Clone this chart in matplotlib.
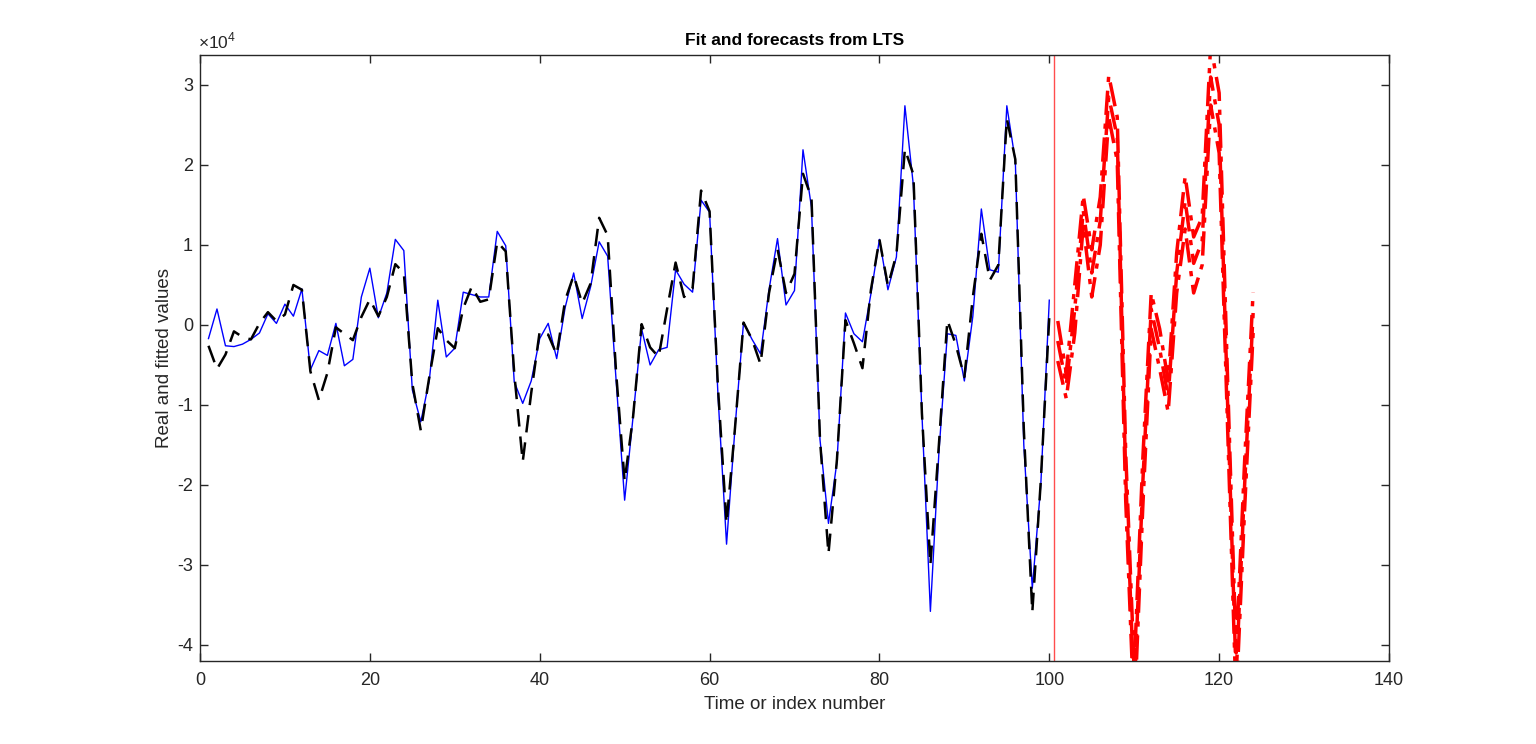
import numpy as np
import matplotlib
matplotlib.use('Agg')
import matplotlib.pyplot as plt
from matplotlib.ticker import FuncFormatter

plt.rcParams['font.family'] = ['Liberation Sans', 'DejaVu Sans']
plt.rcParams['mathtext.fontset'] = 'custom'
plt.rcParams['mathtext.rm'] = 'Liberation Sans'

# time index of observed part and forecast part
t_obs = np.arange(1, 101)
t_fc = np.arange(101, 125)

# real values (blue)
real_vals = [
    -1700, 2000, -2600, -2700, -2400, -1800, -1000, 1400, 200, 2600,
    1100, 4500, -5600, -3200, -3800, 200, -5100, -4300, 3500, 7100,
    900, 4000, 10700, 9300, -8100, -12100, -6900, 3100, -4000, -2900,
    4100, 3800, 3500, 3500, 11700, 9900, -7100, -9800, -7000, -1700,
    200, -4200, 2200, 6500, 800, 4800, 10400, 8600, -7000, -21900,
    -11400, -500, -5000, -3100, -2800, 6900, 5100, 4100, 15600, 14100,
    -9000, -27400, -12800, 300, -1800, -3600, 4400, 10800, 2500, 4300,
    21900, 14700, -14300, -24800, -17100, 1500, -1100, -2100, 3900, 10700,
    4400, 8500, 27400, 17400, -11000, -35800, -16000, -1100, -1300, -7000,
    1100, 14500, 6900, 6600, 27400, 20500, -15000, -32900, -20000, 3100,
]

# fitted values from LTS (black dashed)
fitted_vals = [
    -2600, -5500, -3700, -800, -1500, -1800, 200, 1600, 500, 1300,
    5000, 4400, -5800, -9400, -6000, -300, -1100, -1900, 1000, 3200,
    1100, 3500, 7600, 6500, -7300, -13200, -6500, -400, -1900, -2900,
    2100, 4800, 2900, 3200, 10400, 9200, -6000, -17100, -8500, -800,
    -1200, -3700, 3100, 6200, 2700, 5200, 13400, 11200, -6000, -19500,
    -11400, 100, -2800, -4000, 2000, 7800, 3500, 4600, 16800, 14200,
    -8000, -24800, -12800, 300, -1800, -4900, 4000, 9500, 4000, 6400,
    18900, 15900, -14300, -28600, -16800, 600, -2300, -5400, 4400, 10700,
    4900, 8800, 22000, 18800, -11000, -30000, -15000, 600, -2500, -6500,
    3500, 11400, 5600, 7500, 25800, 20700, -13000, -35900, -19500, 1000,
]

# forecasts and bounds (red)
fc_upper = [500, -6000, 5000, 16200, 9400, 16000, 31200, 26000, -16000, -43000,
            -17000, 4000, -500, -7000, 9000, 18600, 11000, 13500, 35000, 29000,
            -7000, -41000, -17000, 4100]
fc_mid = [-2000, -7500, 2000, 14300, 6500, 13000, 28500, 23500, -19000, -46000,
          -20000, 2000, -3000, -9000, 6500, 15500, 7700, 10500, 31000, 25000,
          -10000, -44000, -20000, 1500]
fc_lower = [-4500, -9200, -1000, 12500, 3500, 10000, 26000, 20500, -22000, -49000,
            -23000, -500, -5500, -10900, 4000, 12000, 4000, 7500, 27500, 21500,
            -13000, -47000, -23000, -1000]

fig = plt.figure(figsize=(15.36, 7.44), dpi=100)
ax = fig.add_axes([0.1302, 0.1116, 0.7741, 0.8145])

ax.plot(t_obs, real_vals, color='blue', lw=1.0)
ax.plot(t_obs, fitted_vals, color='black', lw=1.8, linestyle=(0, (7, 4)))
for fc in (fc_upper, fc_mid, fc_lower):
    ax.plot(t_fc, fc, color='red', lw=2.5, linestyle=(0, (7, 2.5, 1.5, 2.5)))
ax.axvline(100.5, color='#ff4d4d', lw=1.0)

ax.set_xlim(0, 140)
ax.set_ylim(-42000, 33750)
ax.set_xticks(np.arange(0, 141, 20))
ax.set_yticks(np.arange(-40000, 30001, 10000))

# MATLAB style: plain hyphen minus and exponent shown above the axis
ax.yaxis.set_major_formatter(FuncFormatter(lambda v, p: '%g' % (v / 1e4)))
ax.text(-0.002, 1.006, '\u00d710$^{4}$', transform=ax.transAxes,
        ha='left', va='bottom', fontsize=12.5, color='#262626')

ax.tick_params(direction='in', top=True, right=True, length=6, width=1,
               labelsize=13, colors='#262626')
ax.tick_params(axis='x', pad=8)
ax.tick_params(axis='y', pad=5)
for sp in ax.spines.values():
    sp.set_color('#262626')
    sp.set_linewidth(1.0)

ax.set_title('Fit and forecasts from LTS', fontsize=12.5, fontweight='bold', pad=7)
ax.set_xlabel('Time or index number', fontsize=13.5, color='#262626', labelpad=5)
ax.set_ylabel('Real and fitted values', fontsize=13.5, color='#262626', labelpad=3)

fig.savefig('out.png', dpi=100)
